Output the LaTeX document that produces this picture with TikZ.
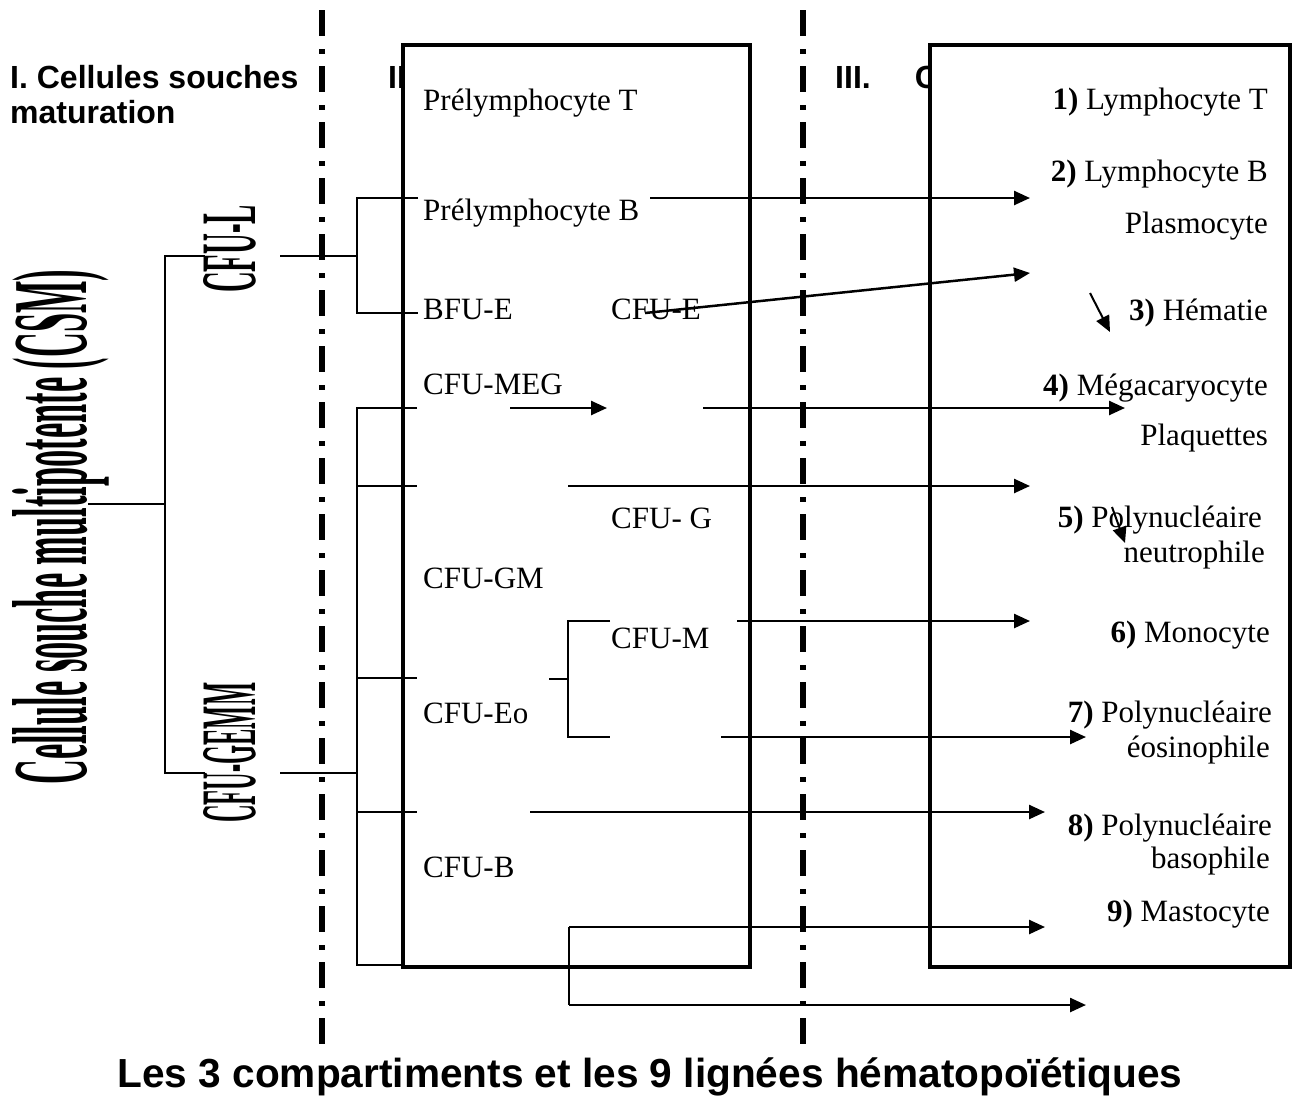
\documentclass[tikz,border=0pt]{standalone}
\usepackage{fontspec}
\setmainfont{Liberation Serif}
\setsansfont{Liberation Sans}
\usetikzlibrary{arrows.meta}
\begin{document}
\begin{tikzpicture}[x=1pt,y=-1pt,
  lab/.style={font=\fontsize{31}{36}\selectfont, inner sep=0},
  hdr/.style={font=\sffamily\bfseries\fontsize{32}{36}\selectfont, inner sep=0},
  boxframe/.style={draw, line width=4pt, fill=white, inner sep=0, minimum height=922pt},
  thinl/.style={line width=1.5pt},
  arr/.style={line width=2.5pt, -{Triangle[length=16pt,width=14pt]}},
  sep/.style={line width=5.5pt, dash pattern=on 26pt off 13pt on 5pt off 12pt},
  rot/.style={inner sep=0, rotate=90, anchor=base west}
]
\useasboundingbox (0,0) rectangle (1296,1096);

% headers
\node[hdr,anchor=base west] (hI) at (10,88) {I. Cellules souches};
\node[hdr,anchor=base west] (hIb) at (10,123) {maturation};
\node[hdr,anchor=base west] (hII) at (388,88) {II};
\node[hdr,anchor=base west] (hIII) at (835,88) {III.\hspace{44pt}C};

% separators
\coordinate (s1t) at (322,10); \coordinate (s1b) at (322,1052);
\coordinate (s2t) at (803,10); \coordinate (s2b) at (803,1052);
\draw[sep] (s1t) -- (s1b);
\draw[sep] (s2t) -- (s2b);

% boxes
\node[boxframe, minimum width=347pt, anchor=north west] (boxII) at (401,43) {};
\node[boxframe, minimum width=360pt, anchor=north west] (boxIII) at (928,43) {};

% rotated labels
\node[rot] (csm) at (86,785) {\resizebox{515pt}{74pt}{\bfseries Cellule souche multipotente (CSM)}};
\node[rot] (cful) at (255,293) {\resizebox{88pt}{52pt}{\bfseries CFU-L}};
\node[rot] (cfugemm) at (255,823) {\resizebox{140pt}{52pt}{\bfseries CFU-GEMM}};

% left box labels
\node[lab,anchor=base west] (pT) at (423,110) {Prélymphocyte T};
\node[lab,anchor=base west] (pB) at (423,220) {Prélymphocyte B};
\node[lab,anchor=base west] (bfue) at (423,319) {BFU-E};
\node[lab,anchor=base west] (cfue) at (611,319) {CFU-E};
\node[lab,anchor=base west] (meg) at (423,394) {CFU-MEG};
\node[lab,anchor=base west] (cfug) at (611,528) {CFU- G};
\node[lab,anchor=base west] (cfugm) at (423,588) {CFU-GM};
\node[lab,anchor=base west] (cfum) at (611,648) {CFU-M};
\node[lab,anchor=base west] (cfueo) at (423,723) {CFU-Eo};
\node[lab,anchor=base west] (cfub) at (423,877) {CFU-B};

% right box labels
\node[lab,anchor=base east] (r1) at (1268,109) {\textbf{1)} Lymphocyte T};
\node[lab,anchor=base east] (r2) at (1268,181) {\textbf{2)} Lymphocyte B};
\node[lab,anchor=base east] (r2b) at (1268,233) {Plasmocyte};
\node[lab,anchor=base east] (r3) at (1268,320) {\textbf{3)} Hématie};
\node[lab,anchor=base east] (r4) at (1268,395) {\textbf{4)} Mégacaryocyte};
\node[lab,anchor=base east] (r4b) at (1268,445) {Plaquettes};
\node[lab,anchor=base east] (r5) at (1262,527) {\textbf{5)} Polynucléaire};
\node[lab,anchor=base east] (r5b) at (1265,562) {neutrophile};
\node[lab,anchor=base east] (r6) at (1270,642) {\textbf{6)} Monocyte};
\node[lab,anchor=base east] (r7) at (1272,722) {\textbf{7)} Polynucléaire};
\node[lab,anchor=base east] (r7b) at (1270,757) {éosinophile};
\node[lab,anchor=base east] (r8) at (1272,835) {\textbf{8)} Polynucléaire};
\node[lab,anchor=base east] (r8b) at (1270,868) {basophile};
\node[lab,anchor=base east] (r9) at (1270,921) {\textbf{9)} Mastocyte};

% title
\node[font=\sffamily\bfseries\fontsize{40.6}{44}\selectfont, anchor=base, inner sep=0] (title) at (650,1087) {Les 3 compartiments et les 9 lignées hématopoïétiques};

% bracket coordinates
\coordinate (c0) at (88,504);
\coordinate (c0t) at (165,256); \coordinate (c0m) at (165,504); \coordinate (c0b) at (165,773);
\coordinate (cLa) at (205,256); \coordinate (cGa) at (205,773);
\coordinate (cLb) at (280,256); \coordinate (cLv) at (357,256);
\coordinate (cLt) at (357,198); \coordinate (cLbt) at (357,313);
\coordinate (cLte) at (418,198); \coordinate (cLbe) at (418,313);
\coordinate (cGb) at (280,773); \coordinate (cGv) at (357,773);
\coordinate (g1) at (357,408); \coordinate (g1e) at (417,408);
\coordinate (g2) at (357,486); \coordinate (g2e) at (417,486);
\coordinate (g3) at (357,678); \coordinate (g3e) at (417,678);
\coordinate (g4) at (357,812); \coordinate (g4e) at (417,812);
\coordinate (g5) at (357,965); \coordinate (g5e) at (403,965);
\coordinate (m0) at (549,679); \coordinate (m0v) at (568,679);
\coordinate (mt) at (568,621); \coordinate (mte) at (610,621);
\coordinate (mb) at (568,737); \coordinate (mbe) at (610,737);

\draw[thinl] (c0) -- (c0m);
\draw[thinl] (cLa) -- (c0t) -- (c0b) -- (cGa);
\draw[thinl] (cLb) -- (cLv);
\draw[thinl] (cLte) -- (cLt) -- (cLbt) -- (cLbe);
\draw[thinl] (cGb) -- (cGv);
\draw[thinl] (g1e) -- (g1) -- (g5) -- (g5e);
\draw[thinl] (g2) -- (g2e);
\draw[thinl] (g3) -- (g3e);
\draw[thinl] (g4) -- (g4e);
\draw[thinl] (m0) -- (m0v);
\draw[thinl] (mte) -- (mt) -- (mb) -- (mbe);

% arrows
\coordinate (a2s) at (650,198); \coordinate (a2e) at (1030,198);
\coordinate (aEs) at (645,313); \coordinate (aEe) at (1030,273);
\coordinate (a3s) at (1090,293); \coordinate (a3e) at (1110,332);
\coordinate (aMs) at (510,408); \coordinate (aMe) at (607,408);
\coordinate (a4s) at (703,408); \coordinate (a4e) at (1125,408);
\coordinate (a5s) at (568,486); \coordinate (a5e) at (1030,486);
\coordinate (a5ts) at (1112,507); \coordinate (a5te) at (1125,543);
\coordinate (a6s) at (737,621); \coordinate (a6e) at (1030,621);
\coordinate (a7s) at (721,737); \coordinate (a7e) at (1086,737);
\coordinate (a8s) at (530,812); \coordinate (a8e) at (1045,812);
\coordinate (a9s) at (569,927); \coordinate (a9e) at (1045,927);
\coordinate (a10s) at (569,1005); \coordinate (a10e) at (1086,1005);

\draw[arr] (a2s) -- (a2e);
\draw[arr] (aEs) -- (aEe);
\draw[arr, line width=2pt] (a3s) -- (a3e);
\draw[arr] (aMs) -- (aMe);
\draw[arr] (a4s) -- (a4e);
\draw[arr] (a5s) -- (a5e);
\draw[arr, line width=2pt] (a5ts) -- (a5te);
\draw[arr] (a6s) -- (a6e);
\draw[arr] (a7s) -- (a7e);
\draw[arr] (a8s) -- (a8e);
\draw[arr] (a9s) -- (a9e);
\draw[line width=2.5pt] (a9s) -- (a10s);
\draw[arr] (a10s) -- (a10e);
\end{tikzpicture}
\end{document}
